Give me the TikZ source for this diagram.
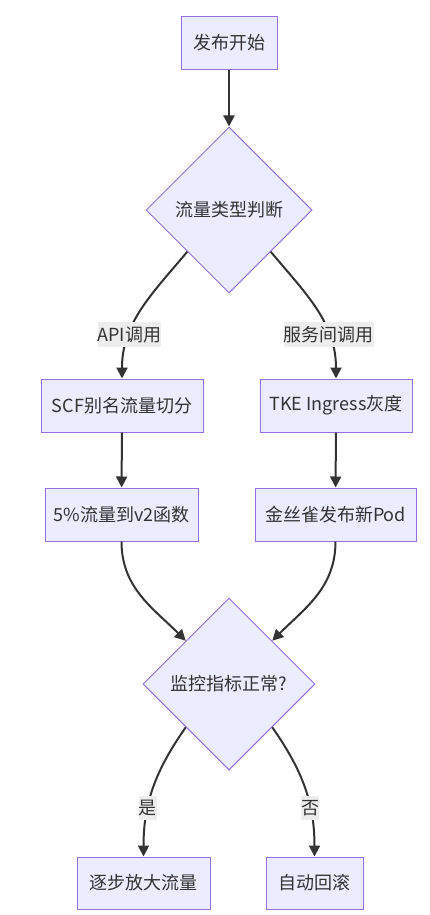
\documentclass[tikz,border=0pt]{standalone}
\usepackage{fontspec}
\setmainfont{Noto Sans CJK SC}
\usetikzlibrary{shapes.geometric,arrows.meta}
\definecolor{mmfill}{RGB}{236,236,255}
\definecolor{mmline}{RGB}{147,112,219}
\definecolor{mmtext}{RGB}{51,51,51}
\definecolor{mmtag}{RGB}{237,237,237}

\begin{document}
\begin{tikzpicture}[x=1pt,y=1pt,
  box/.style={draw=mmline,fill=mmfill,line width=1pt,minimum height=53pt,inner sep=0pt,text=mmtext,font=\fontsize{18}{21}\selectfont},
  choice/.style={diamond,aspect=1,draw=mmline,fill=mmfill,line width=1pt,inner sep=0pt,text=mmtext,font=\fontsize{18}{21}\selectfont},
  flow/.style={draw=mmtext,line width=2pt,-{Triangle[length=11pt,width=11pt]}},
  tag/.style={fill=mmtag,text=mmtext,inner xsep=0pt,inner ysep=4pt,font=\fontsize{18}{21}\selectfont}]
  \useasboundingbox (0,0) rectangle (429,-915);
  \node[box,minimum width=96pt] (start) at (229,-43) {发布开始};
  \node[choice,minimum width=166pt,minimum height=166pt] (kind) at (229,-210) {流量类型判断};
  \node[box,minimum width=162pt] (scf) at (122,-405.5) {SCF别名流量切分};
  \node[box,minimum width=152pt] (tke) at (336,-405.5) {TKE Ingress灰度};
  \node[box,minimum width=153pt] (pct) at (121.5,-514.5) {5\%流量到v2函数};
  \node[box,minimum width=161pt] (pod) at (335.5,-514.5) {金丝雀发布新Pod};
  \node[choice,minimum width=172pt,minimum height=172pt] (check) at (229,-684) {监控指标正常?};
  \node[box,minimum width=133pt,minimum height=52pt] (grow) at (143.5,-883) {逐步放大流量};
  \node[box,minimum width=97pt,minimum height=52pt] (undo) at (314.5,-883) {自动回滚};
  \draw[flow] (start) -- (kind);
  \draw[flow] (kind.south west) to[out=-130,in=90] node[tag,pos=0.7] {API调用} (scf.north);
  \draw[flow] (kind.south east) to[out=-50,in=90] node[tag,pos=0.7] {服务间调用} (tke.north);
  \draw[flow] (scf) -- (pct);
  \draw[flow] (tke) -- (pod);
  \draw[flow] (pct.south) to[out=-90,in=135] (check.north west);
  \draw[flow] (pod.south) to[out=-90,in=45] (check.north east);
  \draw[flow] (check.south west) to[out=-125,in=90] node[tag,pos=0.66] {是} (grow.north);
  \draw[flow] (check.south east) to[out=-55,in=90] node[tag,pos=0.66] {否} (undo.north);
\end{tikzpicture}
\end{document}
